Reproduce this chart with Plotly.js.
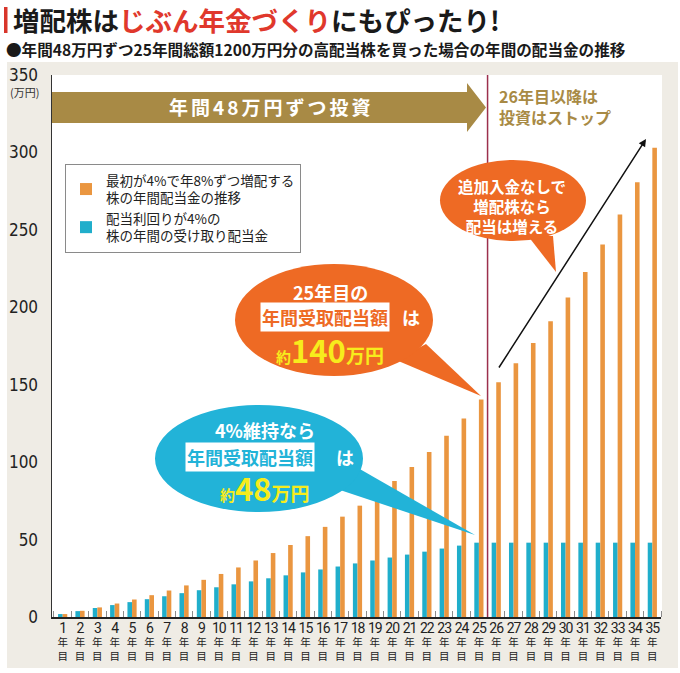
<!DOCTYPE html>
<html>
<head>
<meta charset="utf-8">
<script src="https://cdn.plot.ly/plotly-3.0.1.min.js"></script>
<style>
  html, body { margin: 0; padding: 0; background: #ffffff; }
  #chart { width: 680px; height: 673px; }
</style>
</head>
<body>
<div id="chart"></div>
<script>
// 年目 (1〜35年目)
const years = [1,2,3,4,5,6,7,8,9,10,11,12,13,14,15,16,17,18,19,20,21,22,23,24,25,26,27,28,29,30,31,32,33,34,35];

// 最初が4%で年8%ずつ増配する株の年間配当金 (万円)
const growingDividend = [1.9,4.0,6.2,8.7,11.3,14.1,17.1,20.4,24.0,27.8,32.0,36.5,41.3,46.5,52.2,58.2,64.8,71.9,79.6,87.9,96.8,106.5,117.0,128.2,140.4,151.6,163.8,176.9,191.0,206.3,222.8,240.6,259.9,280.7,303.1];

// 配当利回り4%の株の年間配当金 (万円)
const flatDividend = [1.9,3.8,5.8,7.7,9.6,11.5,13.4,15.4,17.3,19.2,21.1,23.0,25.0,26.9,28.8,30.7,32.6,34.6,36.5,38.4,40.3,42.2,44.2,46.1,48.0,48.0,48.0,48.0,48.0,48.0,48.0,48.0,48.0,48.0,48.0];

// y軸の目盛
const yTicks = [0,50,100,150,200,250,300,350];
const yGrid = [50,100,150,200,250,300];

const seriesNames = [
  '最初が4%で年8%ずつ増配する<br>株の年間配当金の推移',
  '配当利回りが4%の<br>株の年間の受け取り配当金'
];

// 描画領域 (ピクセル)
const W = 680, H = 673;
const M = { l: 52, r: 19, t: 75, b: 56 };
const PW = W - M.l - M.r, PH = H - M.t - M.b;
const px = x => (x - M.l) / PW;
const py = y => (H - M.b - y) / PH;

const JP = '"Noto Sans CJK JP", "Noto Sans", sans-serif';
const NUM = '"Liberation Sans Narrow", "DejaVu Sans Condensed", Roboto, "Liberation Sans", Arial, sans-serif';

// x軸ラベル: 数字 / 年 / 目 の3段
const yearTickText = years.map(y =>
  '<span style="font-size:14px;letter-spacing:-1px;font-family:Roboto, sans-serif">' + y + '</span><br>年<br>目');

const ORANGE_BAR = '#ea9640';
const BLUE_BAR = '#20aecb';
const BUBBLE_ORANGE = '#ee6a24';
const BUBBLE_BLUE = '#22b3d8';
const BROWN = '#a88a45';
const YELLOW = '#f7ec1c';

const xRange = [0.385, 35.5];

const traces = [
  {
    type: 'bar', x: years, y: flatDividend, name: seriesNames[1],
    marker: { color: BLUE_BAR }, hoverinfo: 'x+y'
  },
  {
    type: 'bar', x: years, y: growingDividend, name: seriesNames[0],
    marker: { color: ORANGE_BAR }, hoverinfo: 'x+y'
  }
];

function ellipse(x0, y0, x1, y1, color) {
  return { type: 'circle', xref: 'paper', yref: 'paper', layer: 'above',
    x0: px(x0), x1: px(x1), y0: py(y1), y1: py(y0),
    fillcolor: color, line: { width: 0 } };
}
function poly(points, color, layer) {
  const d = points.map((p, i) => (i ? 'L' : 'M') + px(p[0]).toFixed(5) + ',' + py(p[1]).toFixed(5)).join(' ') + ' Z';
  return { type: 'path', xref: 'paper', yref: 'paper', layer: layer || 'above', path: d,
    fillcolor: color, line: { width: 0 } };
}
function rectPx(x0, y0, x1, y1, color, layer) {
  return { type: 'rect', xref: 'paper', yref: 'paper', layer: layer || 'below',
    x0: px(x0), x1: px(x1), y0: py(y1), y1: py(y0),
    fillcolor: color, line: { width: 0 } };
}
function label(x, y, text, opts) {
  return Object.assign({
    xref: 'paper', yref: 'paper', x: px(x), y: py(y), text: text,
    showarrow: false, xanchor: 'center', yanchor: 'middle',
    font: { family: JP, size: 17, color: '#ffffff', weight: 'bold' }
  }, opts || {});
}

const shapes = [
  // 背景パネル
  rectPx(7, 62, 678, 668, '#efece5', 'below'),
  rectPx(52, 75, 662, 617, '#ffffff', 'below'),
  // タイトル左の赤いバー
  rectPx(4, 7, 7.5, 33, '#d8352b', 'above'),
  // 投資期間の矢印
  poly([[52, 92], [467, 92], [467, 83], [486, 107.5], [467, 132], [467, 123], [52, 123]], BROWN, 'above'),
  // 25年目と26年目の境界線
  { type: 'line', xref: 'x', yref: 'paper', x0: 25.5, x1: 25.5, y0: 0, y1: 1,
    line: { color: '#9c2f4d', width: 1.5 }, layer: 'above' },
  // 吹き出し
  poly([[396, 360], [426, 344], [481, 396]], BUBBLE_ORANGE),
  ellipse(235, 264, 433, 376, BUBBLE_ORANGE),
  poly([[340, 490], [358, 468], [475, 535]], BUBBLE_BLUE),
  ellipse(155, 405, 363, 512, BUBBLE_BLUE),
  poly([[528, 236], [553, 236], [556, 272]], BUBBLE_ORANGE),
  ellipse(440, 160, 586, 241, BUBBLE_ORANGE)
];

const annotations = [
  // タイトル
  { xref: 'paper', yref: 'paper', x: px(11), y: py(20), xanchor: 'left', yanchor: 'middle',
    showarrow: false,
    text: '増配株は<span style="color:#e0382c">じぶん年金づくり</span>にもぴったり!',
    font: { family: JP, size: 26.5, color: '#1a1a1a', weight: 'bold' } },
  { xref: 'paper', yref: 'paper', x: px(4), y: py(49), xanchor: 'left', yanchor: 'middle',
    showarrow: false,
    text: '●年間48万円ずつ25年間総額1200万円分の高配当株を買った場合の年間の配当金の推移',
    font: { family: JP, size: 15.6, color: '#1a1a1a', weight: 'bold' } },
  // 単位
  { xref: 'paper', yref: 'paper', x: px(24), y: py(92), xanchor: 'center', yanchor: 'middle',
    showarrow: false, text: '(万円)', font: { family: JP, size: 11, color: '#333333' } },
  // 矢印内テキスト
  label(271, 107, '<span style="letter-spacing:3px">年間48万円ずつ投資</span>', { font: { family: JP, size: 19, color: '#ffffff', weight: 'bold' } }),
  label(497, 107, '26年目以降は<br>投資はストップ', { xanchor: 'left', align: 'left',
    font: { family: JP, size: 16, color: BROWN, weight: 'bold' } }),
  // 右上の吹き出し
  label(512, 206, '追加入金なしで<br>増配株なら<br>配当は増える', { font: { family: JP, size: 15.5, color: '#ffffff', weight: 'bold' } }),
  // 25年目の吹き出し
  label(330, 292, '25年目の', { font: { family: JP, size: 18, color: '#ffffff', weight: 'bold' } }),
  label(325, 317, '年間受取配当額', { bgcolor: '#ffffff', borderpad: 1,
    font: { family: JP, size: 18, color: BUBBLE_ORANGE, weight: 'bold' } }),
  label(411, 317, 'は', { font: { family: JP, size: 18, color: '#ffffff', weight: 'bold' } }),
  label(330, 349, '約<span style="font-size:31px">140</span><span style="font-size:19px">万円</span>',
    { font: { family: JP, size: 15, color: YELLOW, weight: 'bold' } }),
  // 4%維持の吹き出し
  label(265, 430, '4%維持なら', { font: { family: JP, size: 18, color: '#ffffff', weight: 'bold' } }),
  label(250, 457, '年間受取配当額', { bgcolor: '#ffffff', borderpad: 1,
    font: { family: JP, size: 18, color: BUBBLE_BLUE, weight: 'bold' } }),
  label(345, 457, 'は', { font: { family: JP, size: 18, color: '#ffffff', weight: 'bold' } }),
  label(265, 487, '約<span style="font-size:31px">48</span><span style="font-size:19px">万円</span>',
    { font: { family: JP, size: 15, color: YELLOW, weight: 'bold' } }),
  // 増加を示す矢印
  { xref: 'paper', yref: 'paper', x: px(646), y: py(139), ax: 498 - 646, ay: 369 - 139,
    text: '', showarrow: true, arrowhead: 2, arrowsize: 1, arrowwidth: 1.5, arrowcolor: '#111111' }
];

const layout = {
  width: W, height: H,
  margin: M,
  paper_bgcolor: '#ffffff',
  plot_bgcolor: 'rgba(0,0,0,0)',
  barmode: 'group',
  bargap: 0.47,
  bargroupgap: 0,
  showlegend: true,
  legend: {
    x: px(65), y: py(164), xanchor: 'left', yanchor: 'top',
    traceorder: 'reversed',
    bgcolor: '#ffffff', bordercolor: '#8a8a8a', borderwidth: 1,
    font: { family: JP, size: 13.5, color: '#222222' },
    tracegroupgap: 4,
    itemwidth: 30
  },
  xaxis: {
    type: 'linear', range: xRange, fixedrange: true,
    tickmode: 'array', tickvals: years, ticktext: yearTickText,
    tickangle: 0,
    ticks: '', showgrid: false, zeroline: false,
    showline: true, linecolor: '#222222', linewidth: 2,
    tickfont: { family: JP, size: 10.5, color: '#222222', weight: 'normal' },
    ticklabelstandoff: 1,
    minor: { tickmode: 'linear', tick0: 0.5, dtick: 1, ticks: 'inside', ticklen: 6,
      tickwidth: 1, tickcolor: '#8c8c8c', showgrid: false }
  },
  yaxis: {
    range: [0, 350], fixedrange: true,
    tickmode: 'array', tickvals: yTicks,
    showgrid: false, zeroline: false,
    showline: true, linecolor: '#333333', linewidth: 1.5,
    ticks: '', tickfont: { family: NUM, size: 17, color: '#222222' },
    ticklabelstandoff: 9
  },
  yaxis2: {
    range: [0, 350], overlaying: 'y', anchor: 'x', side: 'left',
    tickmode: 'array', tickvals: yGrid, showticklabels: false,
    showgrid: true, gridcolor: '#c9c9c9', griddash: 'dash', gridwidth: 1,
    zeroline: false, showline: false, ticks: ''
  },
  shapes: shapes,
  annotations: annotations
};

Plotly.newPlot('chart', traces, layout, { displayModeBar: false, staticPlot: true });
</script>
</body>
</html>
